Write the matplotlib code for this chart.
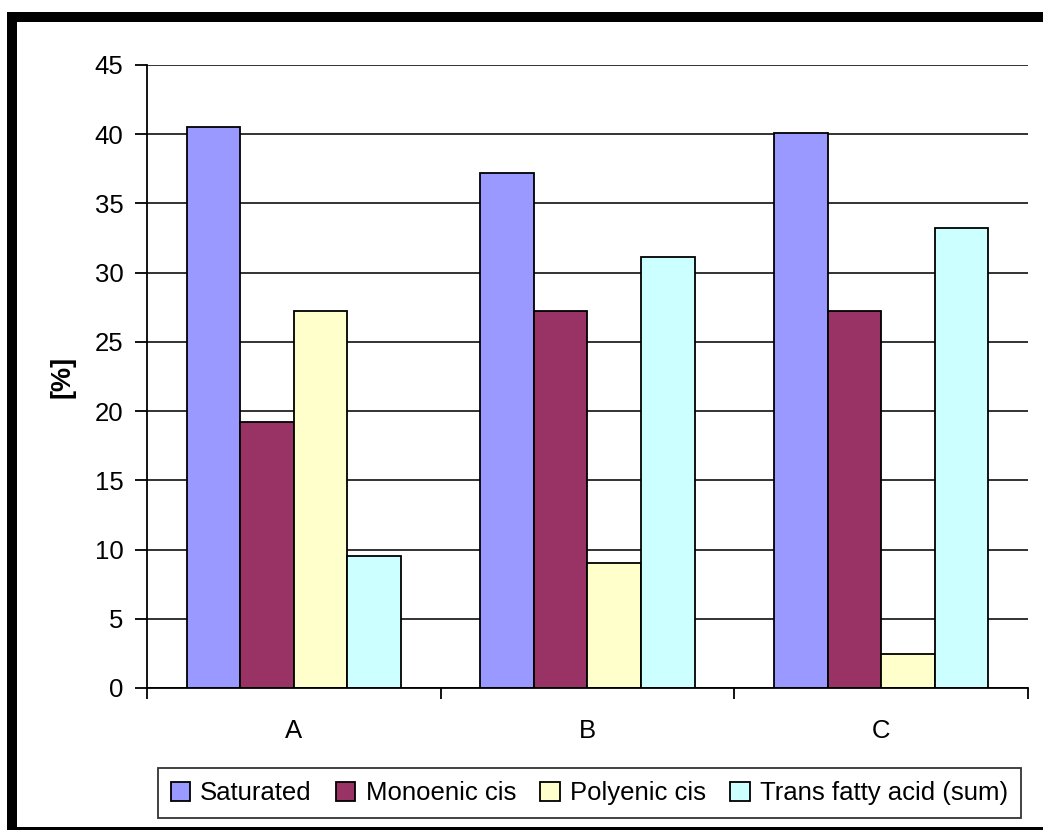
import matplotlib
matplotlib.use("Agg")
import matplotlib.pyplot as plt
import numpy as np
from matplotlib.patches import Rectangle

# Fatty acid composition per sample
categories = ["A", "B", "C"]
series_names = ["Saturated", "Monoenic cis", "Polyenic cis", "Trans fatty acid (sum)"]
saturated = [40.5, 37.2, 40.1]
monoenic_cis = [19.2, 27.2, 27.2]
polyenic_cis = [27.2, 9.0, 2.45]
trans_sum = [9.5, 31.1, 33.2]
colors = ["#9999FF", "#993366", "#FFFFCC", "#CCFFFF"]
y_ticks = list(range(0, 50, 5))

plt.rcParams["font.family"] = ["Liberation Sans", "DejaVu Sans"]

fig = plt.figure(figsize=(10.43, 8.30), dpi=100)
ax = fig.add_axes([0.1409, 0.1711, 0.8447, 0.7506])

values = [saturated, monoenic_cis, polyenic_cis, trans_sum]
n_series = len(values)
x = np.arange(len(categories))
bar_w = 0.729 / n_series
handles = []
for i, (vals, name, col) in enumerate(zip(values, series_names, colors)):
    offs = (i - (n_series - 1) / 2) * bar_w
    h = ax.bar(x + offs, vals, width=bar_w, color=col, edgecolor="black",
               linewidth=1.3, label=name, zorder=3)
    handles.append(h)

ax.set_xlim(-0.5, len(categories) - 0.5)
ax.set_ylim(0, 45)

# horizontal gridlines
ax.set_yticks(y_ticks)
ax.yaxis.grid(True, color="#222222", linewidth=1.3, zorder=0)
ax.set_axisbelow(True)

for s in ["top", "right"]:
    ax.spines[s].set_visible(False)
for s in ["left", "bottom"]:
    ax.spines[s].set_linewidth(1.3)
    ax.spines[s].set_zorder(4)

ax.tick_params(axis="y", direction="out", length=9, width=1.3, labelsize=18.5, pad=8)

# category boundaries as tick marks, names centered below groups
ax.set_xticks(np.arange(len(categories) + 1) - 0.5)
ax.set_xticklabels([])
ax.tick_params(axis="x", which="major", direction="out", length=8, width=1.3)
ax.set_xticks(x, minor=True)
ax.set_xticklabels(categories, minor=True)
ax.tick_params(axis="x", which="minor", length=0, labelsize=18.5, pad=22)

ax.set_ylabel("[%]", fontsize=19.5, fontweight="bold", labelpad=14)

leg = fig.legend(handles=handles, labels=series_names, loc="lower center",
                 bbox_to_anchor=(0.565, 0.0145), ncol=4, fontsize=18.5,
                 frameon=True, fancybox=False, edgecolor="black",
                 handlelength=0.75, handleheight=0.75, handletextpad=0.4,
                 columnspacing=0.95, borderpad=0.5, borderaxespad=0)
leg.get_frame().set_linewidth(1.3)

# black frame around the chart
W, H = 1043, 830
def px_rect(x0, y0, x1, y1):
    fig.patches.append(Rectangle((x0 / W, 1 - y1 / H), (x1 - x0) / W, (y1 - y0) / H,
                                 transform=fig.transFigure, facecolor="black",
                                 edgecolor="none", zorder=10))
px_rect(7, 12, W, 22.5)
px_rect(7, 12, 17, H)
px_rect(7, 827, W, H)

fig.savefig("out.png", dpi=100)
